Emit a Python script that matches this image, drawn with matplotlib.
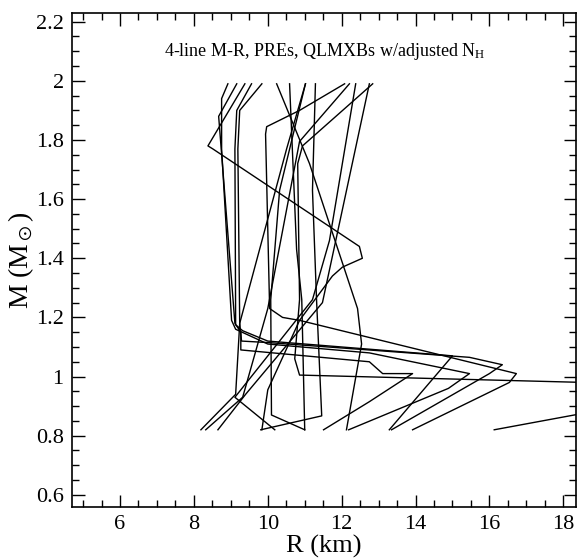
import matplotlib
matplotlib.use("Agg")
import matplotlib.pyplot as plt
from matplotlib.ticker import MultipleLocator

plt.rcParams['font.family'] = ['Liberation Serif', 'DejaVu Serif']
plt.rcParams['mathtext.fontset'] = 'stix'

# M-R curves (R in km, M in solar masses)
curve_A_R = [9.16, 8.67, 9.11, 9.27, 9.27, 12.75, 13.11, 13.92, 12.75, 11.51]
curve_A_M = [1.99, 1.88, 1.18, 1.15, 1.09, 1.05, 1.01, 1.01, 0.915, 0.82]
curve_B_R = [9.38, 8.38, 8.51, 12.48, 12.56, 12.02, 11.75, 10.86, 10.0, 9.84]
curve_B_M = [1.99, 1.78, 1.77, 1.44, 1.40, 1.37, 1.34, 1.19, 0.955, 0.82]
curve_C_R = [9.56, 9.16, 9.11, 9.13, 9.32, 10.0, 15.0, 13.29]
curve_C_M = [1.99, 1.90, 1.77, 1.175, 1.155, 1.12, 1.07, 0.82]
curve_D_R = [9.84, 9.24, 9.19, 9.24, 9.29, 10.0, 15.46, 16.35, 16.0, 13.35]
curve_D_M = [1.99, 1.90, 1.77, 1.18, 1.12, 1.115, 1.065, 1.04, 1.01, 0.82]
curve_E_R = [8.92, 8.75, 8.75, 9.02, 9.13, 10.0, 12.75, 15.46, 14.89, 12.19]
curve_E_M = [1.99, 1.94, 1.77, 1.19, 1.16, 1.11, 1.08, 1.01, 0.96, 0.82]
curve_F_R = [12.08, 10.86, 9.97, 9.94, 10.05, 10.4, 10.86, 16.73, 16.54, 13.92]
curve_F_M = [1.99, 1.90, 1.845, 1.82, 1.23, 1.20, 1.19, 1.01, 0.98, 0.82]
curve_G_R = [12.84, 10.94, 10.81, 10.86, 10.73, 10.86, 18.6]
curve_G_M = [1.99, 1.78, 1.72, 1.26, 1.06, 1.005, 0.98]
curve_H_R = [10.24, 11.13, 12.43, 12.54, 12.13]
curve_H_M = [1.99, 1.72, 1.23, 1.11, 0.82]
curve_I_R = [11.02, 10.51, 9.24, 9.13, 8.19]
curve_I_M = [1.99, 1.77, 1.18, 0.94, 0.82]
curve_J_R = [12.21, 10.86, 10.0, 9.32, 8.32]
curve_J_M = [1.99, 1.795, 1.23, 0.93, 0.82]
curve_K_R = [12.75, 11.48, 9.40, 8.65]
curve_K_M = [1.99, 1.25, 0.94, 0.82]
curve_L_R = [10.59, 10.78, 10.92, 11.0]
curve_L_M = [1.99, 1.43, 1.26, 0.82]
curve_N_R = [11.29, 11.21, 11.32, 11.46, 9.81]
curve_N_M = [1.99, 1.63, 1.26, 0.867, 0.82]
curve_O_R = [12.38, 11.67, 11.21, 9.11, 10.19]
curve_O_M = [1.99, 1.46, 1.26, 0.93, 0.82]
curve_P_R = [11.02, 10.32, 10.08, 10.1, 11.0]
curve_P_M = [1.99, 1.63, 1.26, 0.87, 0.82]
curve_Q_R = [16.13, 18.6]
curve_Q_M = [0.82, 0.877]

curves = [
    (curve_A_R, curve_A_M), (curve_B_R, curve_B_M), (curve_C_R, curve_C_M),
    (curve_D_R, curve_D_M), (curve_E_R, curve_E_M), (curve_F_R, curve_F_M),
    (curve_G_R, curve_G_M), (curve_H_R, curve_H_M), (curve_I_R, curve_I_M),
    (curve_J_R, curve_J_M), (curve_K_R, curve_K_M), (curve_L_R, curve_L_M),
    (curve_N_R, curve_N_M), (curve_O_R, curve_O_M), (curve_P_R, curve_P_M),
    (curve_Q_R, curve_Q_M),
]

x_ticks = [6, 8, 10, 12, 14, 16, 18]
x_ticklabels = ['6', '8', '10', '12', '14', '16', '18']
y_ticks = [0.6, 0.8, 1.0, 1.2, 1.4, 1.6, 1.8, 2.0, 2.2]
y_ticklabels = ['0.6', '0.8', '1', '1.2', '1.4', '1.6', '1.8', '2', '2.2']

fig = plt.figure(figsize=(5.77, 5.58), dpi=100)
ax = fig.add_axes([0.1248, 0.092, 0.998 - 0.1248, 0.977 - 0.092])

for R, M in curves:
    ax.plot(R, M, color='black', lw=1.0)

ax.set_xlim(4.7, 18.34)
ax.set_ylim(0.56, 2.23)
ax.set_xticks(x_ticks)
ax.set_xticklabels(x_ticklabels)
ax.set_yticks(y_ticks)
ax.set_yticklabels(y_ticklabels)
ax.xaxis.set_minor_locator(MultipleLocator(0.5))
ax.yaxis.set_minor_locator(MultipleLocator(0.05))
ax.tick_params(which='both', direction='in', top=True, right=True, labelsize=16, width=1.0, pad=6)
ax.tick_params(which='major', length=9)
ax.tick_params(which='minor', length=5)
for s in ax.spines.values():
    s.set_linewidth(1.2)

ax.set_xlabel('R (km)', fontsize=19, labelpad=1)
ax.set_ylabel(r'M (M$_\odot$)', fontsize=20, labelpad=0)
ax.text(11.55, 2.1, r'4-line M-R, PREs, QLMXBs w/adjusted N$_\mathregular{H}$',
        fontsize=13, ha='center', va='center')

fig.savefig('out.png', dpi=100)
